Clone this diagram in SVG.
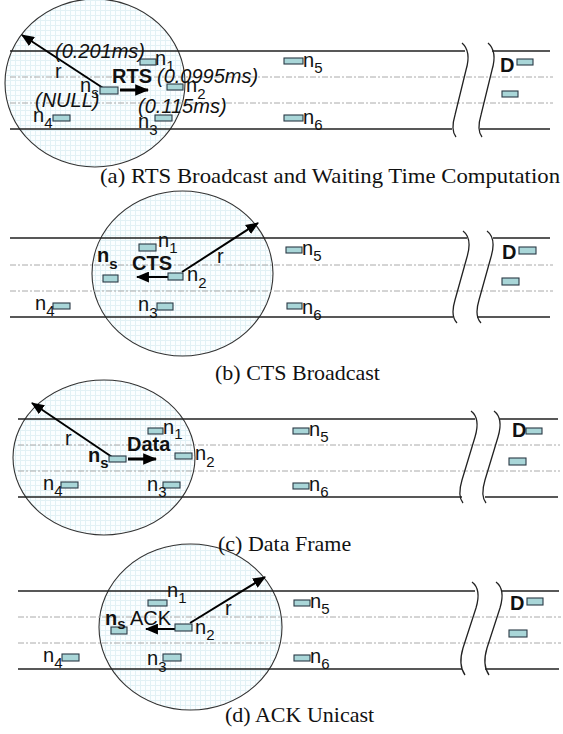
<svg xmlns="http://www.w3.org/2000/svg" width="563" height="734" viewBox="0 0 563 734">
<defs>
<pattern id="dots" width="5" height="5" patternUnits="userSpaceOnUse">
<rect width="5" height="5" fill="#fbfeff"/>
<rect width="5" height="1" fill="#e2f1f5"/>
<rect width="1" height="5" fill="#e2f1f5"/>
</pattern>
<marker id="ah" viewBox="0 0 12 10" refX="11" refY="5" markerWidth="13" markerHeight="11" markerUnits="userSpaceOnUse" orient="auto">
<path d="M0,0 L12,5 L0,10 Z" fill="#000"/>
</marker>
<marker id="ahb" viewBox="0 0 12 10" refX="11" refY="5" markerWidth="14" markerHeight="12" markerUnits="userSpaceOnUse" orient="auto">
<path d="M0,0 L12,5 L0,10 Z" fill="#000"/>
</marker>
</defs>
<style>
.rng{fill:url(#dots);stroke:#333;stroke-width:1.1}
.ln{stroke:#222;stroke-width:1.4;fill:none}
.dl{stroke:#aaa;stroke-width:1;stroke-dasharray:6 2 2 2;fill:none}
.brk{stroke:#222;stroke-width:1.3;fill:none}
.nd{fill:#a9d6d8;stroke:#2b3a46;stroke-width:1.1}
.lb{font-family:"Liberation Sans",Arial,sans-serif;font-size:20px;fill:#111}
.sub{font-size:15px}
.bd{font-weight:bold}
.it{font-family:"Liberation Sans",Arial,sans-serif;font-size:20px;font-style:italic;fill:#111}
.cap{font-family:"Liberation Serif","Times New Roman",serif;font-size:22px;fill:#111}
.ar{stroke:#000;stroke-width:2;fill:none;marker-end:url(#ah)}
.arb{stroke:#000;stroke-width:3;fill:none;marker-end:url(#ahb)}
</style>

<!-- ranges -->
<g id="ranges">
<ellipse id="range-a" class="rng" cx="95" cy="83" rx="90" ry="84"/>
<ellipse id="range-b" class="rng" cx="182.5" cy="273.5" rx="90.5" ry="82.5"/>
<ellipse id="range-c" class="rng" cx="104" cy="457.5" rx="91" ry="77.5"/>
<ellipse id="range-d" class="rng" cx="190.5" cy="627" rx="91.5" ry="83"/>
</g>

<!-- roads -->
<g id="roads">
<path class="ln" d="M10 51H465M492 51H550M10 129H452M480 129H550"/>
<path class="dl" d="M10 77H553M10 103H553"/>
<path class="brk" d="M462 43C470 50 469 60 466 70L455 115C452 125 452 132 456 137"/>
<path class="brk" d="M488 43C496 50 495 60 492 70L481 115C478 125 478 132 482 137"/>

<path class="ln" d="M10 238H467M493 238H550M10 317H453M477 317H550"/>
<path class="dl" d="M10 265H553M10 291H553"/>
<path class="brk" d="M463 231C471 237 470 247 467 257L455 300C452 310 452 318 457 323"/>
<path class="brk" d="M487 231C495 237 494 247 491 257L479 300C476 310 476 318 481 323"/>

<path class="ln" d="M18 419H475M500 419H558M18 497H462M485 497H558"/>
<path class="dl" d="M18 445H560M18 471H560"/>
<path class="brk" d="M471 411C479 417 478 427 475 437L462 480C459 490 459 498 463 503"/>
<path class="brk" d="M494 411C502 417 501 427 498 437L485 480C482 490 482 498 486 503"/>

<path class="ln" d="M18 591H475M502 591H559M18 669H462M485 669H559"/>
<path class="dl" d="M18 617H561M18 643H561"/>
<path class="brk" d="M472 582C480 588 479 598 476 608L463 648C460 658 460 668 465 675"/>
<path class="brk" d="M496 582C504 588 503 598 500 608L487 648C484 658 484 668 489 675"/>
</g>

<!-- connectors -->
<g id="connectors">
<line class="ar" x1="103" y1="88" x2="22" y2="35"/>
<line class="arb" x1="120" y1="90" x2="148" y2="90"/>
<line class="ar" x1="182" y1="272" x2="258" y2="223"/>
<line class="ar" x1="168" y1="277" x2="137" y2="277"/>
<line class="ar" x1="112" y1="457" x2="32" y2="403"/>
<line class="arb" x1="128" y1="459" x2="156" y2="459"/>
<line class="ar" x1="190" y1="623" x2="265" y2="577"/>
<line class="ar" x1="175" y1="629" x2="146" y2="629"/>
</g>

<!-- panel a -->
<g id="panel-a">
<g id="a-ns"><rect class="nd" x="100" y="87" width="18" height="7"/><text class="lb" x="80" y="92">n<tspan class="sub" dy="6">s</tspan></text></g>
<g id="a-n1"><rect class="nd" x="140" y="59" width="16" height="6"/><text class="lb" x="155" y="65">n<tspan class="sub" dy="6">1</tspan></text></g>
<g id="a-n2"><rect class="nd" x="167" y="84" width="16" height="6"/><text class="lb" x="186" y="92">n<tspan class="sub" dy="7">2</tspan></text></g>
<g id="a-n3"><rect class="nd" x="155" y="115" width="17" height="6"/><text class="lb" x="138" y="128">n<tspan class="sub" dy="7">3</tspan></text></g>
<g id="a-n4"><rect class="nd" x="53" y="115" width="17" height="6"/><text class="lb" x="33" y="122">n<tspan class="sub" dy="6">4</tspan></text></g>
<g id="a-n5"><rect class="nd" x="284" y="58" width="19" height="6"/><text class="lb" x="303" y="67">n<tspan class="sub" dy="6">5</tspan></text></g>
<g id="a-n6"><rect class="nd" x="284" y="115" width="19" height="6"/><text class="lb" x="303" y="124">n<tspan class="sub" dy="6">6</tspan></text></g>
<g id="a-D"><rect class="nd" x="517" y="59" width="16" height="6"/><text class="lb bd" x="500" y="72">D</text></g>
<g id="a-x"><rect class="nd" x="502" y="91" width="16" height="6"/></g>
<text class="it" x="55" y="58">(0.201ms)</text>
<text class="it" x="157" y="83">(0.0995ms)</text>
<text class="it" x="35" y="107">(NULL)</text>
<text class="it" x="138" y="113">(0.115ms)</text>
<text class="lb bd" x="112" y="83">RTS</text>
<text class="lb" x="55" y="78">r</text>
<text class="cap" x="100" y="183" textLength="460" lengthAdjust="spacingAndGlyphs">(a) RTS Broadcast and Waiting Time Computation</text>
</g>

<!-- panel b -->
<g id="panel-b">
<g id="b-ns"><rect class="nd" x="103" y="275" width="15" height="7"/><text class="lb bd" x="97" y="262">n<tspan class="sub" dy="7">s</tspan></text></g>
<g id="b-n1"><rect class="nd" x="139" y="244" width="17" height="7"/><text class="lb" x="158" y="247">n<tspan class="sub" dy="6">1</tspan></text></g>
<g id="b-n2"><rect class="nd" x="168" y="273" width="15" height="7"/><text class="lb" x="187" y="281">n<tspan class="sub" dy="7">2</tspan></text></g>
<g id="b-n3"><rect class="nd" x="157" y="303" width="16" height="7"/><text class="lb" x="138" y="311">n<tspan class="sub" dy="7">3</tspan></text></g>
<g id="b-n4"><rect class="nd" x="53" y="303" width="17" height="6"/><text class="lb" x="35" y="310">n<tspan class="sub" dy="6">4</tspan></text></g>
<g id="b-n5"><rect class="nd" x="286" y="247" width="16" height="6"/><text class="lb" x="302" y="255">n<tspan class="sub" dy="6">5</tspan></text></g>
<g id="b-n6"><rect class="nd" x="287" y="303" width="15" height="6"/><text class="lb" x="302" y="314">n<tspan class="sub" dy="6">6</tspan></text></g>
<g id="b-D"><rect class="nd" x="519" y="247" width="17" height="7"/><text class="lb bd" x="502" y="259">D</text></g>
<g id="b-x"><rect class="nd" x="502" y="278" width="17" height="7"/></g>
<text class="lb bd" x="132" y="270">CTS</text>
<text class="lb" x="217" y="263">r</text>
<text class="cap" x="215" y="380">(b) CTS Broadcast</text>
</g>

<!-- panel c -->
<g id="panel-c">
<g id="c-ns"><rect class="nd" x="109" y="456" width="17" height="6"/><text class="lb bd" x="88" y="462">n<tspan class="sub" dy="6">s</tspan></text></g>
<g id="c-n1"><rect class="nd" x="148" y="428" width="15" height="6"/><text class="lb" x="163" y="434">n<tspan class="sub" dy="5">1</tspan></text></g>
<g id="c-n2"><rect class="nd" x="175" y="453" width="17" height="6"/><text class="lb" x="195" y="460">n<tspan class="sub" dy="7">2</tspan></text></g>
<g id="c-n3"><rect class="nd" x="163" y="482" width="17" height="6"/><text class="lb" x="147" y="491">n<tspan class="sub" dy="6">3</tspan></text></g>
<g id="c-n4"><rect class="nd" x="61" y="482" width="17" height="6"/><text class="lb" x="43" y="490">n<tspan class="sub" dy="6">4</tspan></text></g>
<g id="c-n5"><rect class="nd" x="293" y="428" width="16" height="6"/><text class="lb" x="309" y="436">n<tspan class="sub" dy="6">5</tspan></text></g>
<g id="c-n6"><rect class="nd" x="293" y="483" width="16" height="6"/><text class="lb" x="309" y="491">n<tspan class="sub" dy="6">6</tspan></text></g>
<g id="c-D"><rect class="nd" x="526" y="428" width="16" height="6"/><text class="lb bd" x="512" y="437">D</text></g>
<g id="c-x"><rect class="nd" x="509" y="458" width="17" height="7"/></g>
<text class="lb bd" x="127" y="451">Data</text>
<text class="lb" x="65" y="445">r</text>
<text class="cap" x="218" y="551">(c) Data Frame</text>
</g>

<!-- panel d -->
<g id="panel-d">
<g id="d-ns"><rect class="nd" x="111" y="627" width="16" height="7"/><text class="lb bd" x="105" y="625">n<tspan class="sub" dy="4">s</tspan></text></g>
<g id="d-n1"><rect class="nd" x="148" y="600" width="19" height="6"/><text class="lb" x="167" y="597">n<tspan class="sub" dy="6">1</tspan></text></g>
<g id="d-n2"><rect class="nd" x="175" y="624" width="17" height="7"/><text class="lb" x="195" y="634">n<tspan class="sub" dy="6">2</tspan></text></g>
<g id="d-n3"><rect class="nd" x="163" y="654" width="18" height="7"/><text class="lb" x="147" y="665">n<tspan class="sub" dy="7">3</tspan></text></g>
<g id="d-n4"><rect class="nd" x="62" y="654" width="17" height="7"/><text class="lb" x="43" y="662">n<tspan class="sub" dy="6">4</tspan></text></g>
<g id="d-n5"><rect class="nd" x="294" y="600" width="16" height="6"/><text class="lb" x="310" y="608">n<tspan class="sub" dy="6">5</tspan></text></g>
<g id="d-n6"><rect class="nd" x="294" y="655" width="16" height="6"/><text class="lb" x="310" y="663">n<tspan class="sub" dy="6">6</tspan></text></g>
<g id="d-D"><rect class="nd" x="527" y="598" width="16" height="7"/><text class="lb bd" x="510" y="610">D</text></g>
<g id="d-x"><rect class="nd" x="509" y="630" width="18" height="7"/></g>
<text class="lb" x="130" y="625">ACK</text>
<text class="lb" x="225" y="615">r</text>
<text class="cap" x="225" y="722">(d) ACK Unicast</text>
</g>
</svg>
